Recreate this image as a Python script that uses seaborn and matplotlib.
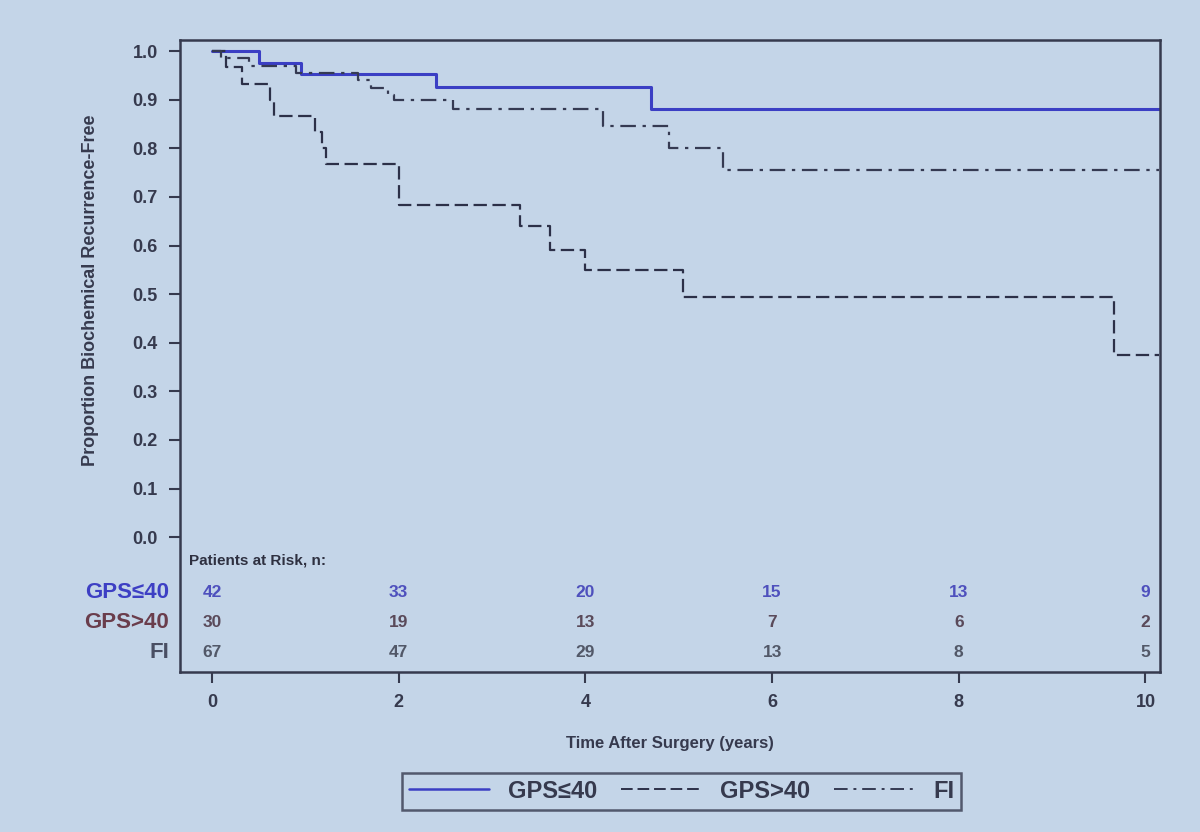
import numpy as np
import pandas as pd
import matplotlib
matplotlib.use("Agg")
import matplotlib.pyplot as plt
import seaborn as sns
from matplotlib.lines import Line2D

groups = ["GPS≤40", "GPS>40", "FI"]

# Kaplan-Meier step curves (years, proportion)
gps_low_time = [0, 0.5, 0.95, 2.4, 4.7, 10.15]
gps_low_surv = [1.0, 0.976, 0.952, 0.927, 0.880, 0.880]

gps_high_time = [0, 0.15, 0.32, 0.62, 0.66, 1.1, 1.18, 1.22, 2.0, 3.3, 3.62, 4.0, 5.05, 9.66, 10.15]
gps_high_surv = [1.0, 0.967, 0.933, 0.9, 0.867, 0.833, 0.8, 0.767, 0.683, 0.64, 0.59, 0.55, 0.495, 0.375, 0.375]

fi_time = [0, 0.1, 0.4, 0.9, 1.56, 1.7, 1.88, 1.95, 2.58, 4.19, 4.9, 5.47, 10.15]
fi_surv = [1.0, 0.985, 0.97, 0.955, 0.94, 0.925, 0.91, 0.9, 0.88, 0.845, 0.8, 0.755, 0.755]

# patients at risk table
risk_times = [0, 2, 4, 6, 8, 10]
risk_gps_low = [42, 33, 20, 15, 13, 9]
risk_gps_high = [30, 19, 13, 7, 6, 2]
risk_fi = [67, 47, 29, 13, 8, 5]

df = pd.concat([
    pd.DataFrame({"time": gps_low_time, "surv": gps_low_surv, "group": groups[0]}),
    pd.DataFrame({"time": gps_high_time, "surv": gps_high_surv, "group": groups[1]}),
    pd.DataFrame({"time": fi_time, "surv": fi_surv, "group": groups[2]}),
])

bg = "#c4d5e8"
ink = "#363a4e"
sns.set_theme(style="ticks")
plt.rcParams["font.family"] = ["Liberation Sans", "DejaVu Sans"]
plt.rcParams["font.weight"] = "bold"

line_cols = {groups[0]: "#3b3fc4", groups[1]: "#2c3048", groups[2]: "#353a52"}
dash_styles = {groups[0]: "", groups[1]: (6, 2.5), groups[2]: (7, 3, 1.5, 3)}
label_cols = ["#3d3fc4", "#6a3d4c", "#4a4f63"]
num_cols = ["#4e50bd", "#5a4a5a", "#525868"]

fig = plt.figure(figsize=(12, 8.32), dpi=100, facecolor=bg)
ax = fig.add_axes([0.15, 0.192, 0.817, 0.760], facecolor=bg)

sns.lineplot(data=df, x="time", y="surv", hue="group", style="group",
             palette=line_cols, dashes=dash_styles, drawstyle="steps-post",
             estimator=None, sort=False, linewidth=1.6, legend=False, ax=ax)
ax.get_lines()[0].set_linewidth(2.2)

ax.set_xlim(-0.343, 10.16)
ax.set_ylim(-0.278, 1.023)
ax.set_yticks(np.arange(0, 1.01, 0.1))
ax.set_yticklabels([f"{v:.1f}" for v in np.arange(0, 1.01, 0.1)], fontsize=13, color=ink)
ax.set_xticks(risk_times)
ax.set_xticklabels([str(t) for t in risk_times], fontsize=13, color=ink)
ax.tick_params(axis="both", direction="out", length=8, width=1.5, color=ink, pad=8)
for s in ax.spines.values():
    s.set_linewidth(1.8)
    s.set_color(ink)

ax.set_xlabel("Time After Surgery (years)", fontsize=12, fontweight="bold", color=ink, labelpad=18)
ax.set_ylabel("Proportion Biochemical Recurrence-Free", fontsize=13, fontweight="bold", color=ink)
ax.yaxis.set_label_coords(-0.083, 0.604)

# risk table inside the axes, below zero
ax.text(-0.25, -0.048, "Patients at Risk, n:", fontsize=11, color="#2e3040", va="center")
rows = [risk_gps_low, risk_gps_high, risk_fi]
row_y = [-0.113, -0.175, -0.237]
for i, (vals, yv) in enumerate(zip(rows, row_y)):
    ax.text(-0.46, yv, groups[i], fontsize=16, color=label_cols[i], ha="right", va="center",
            family=["Liberation Sans", "DejaVu Sans"])
    for t, n in zip(risk_times, vals):
        ax.text(t, yv, str(n), fontsize=12.5, color=num_cols[i], ha="center", va="center")

handles = [Line2D([0], [0], color=line_cols[g], linewidth=1.8 if i == 0 else 1.4,
                  dashes=dash_styles[g] if dash_styles[g] else (None, None))
           for i, g in enumerate(groups)]
handles[0].set_linestyle("-")
leg = fig.legend(handles, groups, loc="center", bbox_to_anchor=(0.568, 0.049), ncol=3,
                 frameon=True, fancybox=False, edgecolor=ink, facecolor=bg,
                 fontsize=17, handlelength=3.4, handletextpad=0.8, columnspacing=1.0,
                 borderpad=0.3)
leg.get_frame().set_linewidth(1.8)
for txt in leg.get_texts():
    txt.set_color(ink)

fig.savefig("out.png", dpi=100, facecolor=bg)
